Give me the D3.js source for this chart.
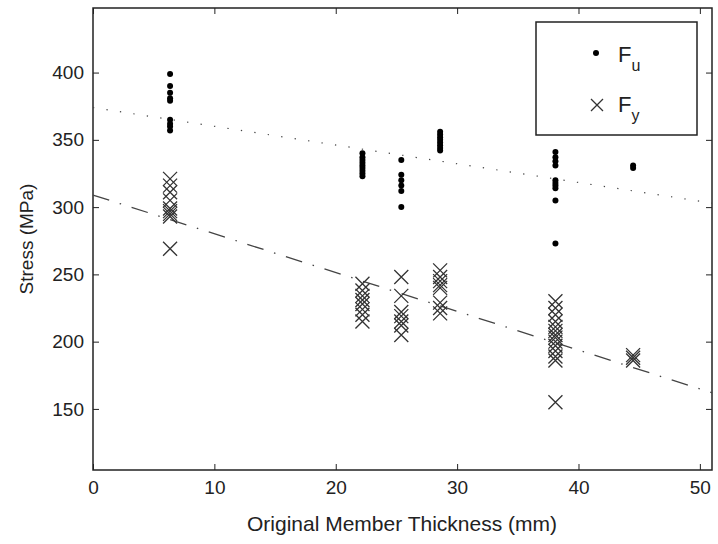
<!DOCTYPE html>
<html>
<head>
<script src="https://d3js.org/d3.v7.min.js"></script>
<style>
  body { margin: 0; background: #fff; }
  svg { font-family: "Liberation Sans", Arial, sans-serif; }
</style>
</head>
<body>
<div id="chart"></div>
<script>
// thickness groups (mm)
const thickness = [6.35, 22.2, 25.4, 28.6, 38.1, 44.5];

// ultimate strength Fu per thickness group (MPa)
const fuValues = [
  [399, 390, 385, 381, 379, 365, 362, 360, 357],
  [340, 337, 335, 333, 331, 329, 327, 325, 323],
  [335, 324, 320, 316, 312, 300],
  [356, 354, 352, 350, 348, 346, 344, 342],
  [341, 337, 334, 331, 320, 318, 316, 314, 305, 273],
  [331, 329]
];

// yield strength Fy per thickness group (MPa)
const fyValues = [
  [321, 316, 311, 305, 299, 297, 295, 293, 269],
  [243, 238, 234, 231, 228, 224, 220, 215],
  [248, 234, 222, 219, 215, 212, 205],
  [253, 248, 245, 242, 240, 229, 225, 221],
  [230, 225, 220, 215, 211, 208, 205, 203, 200, 197, 193, 189, 186, 155],
  [190, 188, 186]
];

// fitted trend lines: [thickness, stress] end points
const fuTrend = [[0, 374], [51, 303]];
const fyTrend = [[0, 309], [51, 162]];

const xTicks = [0, 10, 20, 30, 40, 50];
const yTicks = [150, 200, 250, 300, 350, 400];

const W = 718, H = 544;
const margin = {top: 8, right: 6, bottom: 74, left: 93};
const width = W - margin.left - margin.right;
const height = H - margin.top - margin.bottom;

const svg = d3.select("#chart").append("svg")
  .attr("width", W).attr("height", H);
const g = svg.append("g")
  .attr("transform", "translate(" + margin.left + "," + margin.top + ")");

const x = d3.scaleLinear().domain([0, 51]).range([0, width]);
const y = d3.scaleLinear().domain([104.6, 448]).range([height, 0]);

const ink = "#222";
const tickLen = 6;

// axes (ticks inward, box style)
const axisStyle = sel => {
  sel.select(".domain").remove();
  sel.selectAll("line").attr("stroke", ink);
  sel.selectAll("text").attr("fill", ink).style("font-size", "19px");
};
g.append("g").attr("transform", "translate(0," + height + ")")
  .call(d3.axisBottom(x).tickValues(xTicks).tickSizeInner(-tickLen).tickSizeOuter(0).tickPadding(11))
  .call(axisStyle);
g.append("g")
  .call(d3.axisLeft(y).tickValues(yTicks).tickSizeInner(-tickLen).tickSizeOuter(0).tickPadding(9))
  .call(axisStyle);
g.append("g")
  .call(d3.axisTop(x).tickValues(xTicks).tickSizeInner(-tickLen).tickSizeOuter(0).tickFormat(""))
  .call(axisStyle);
g.append("g").attr("transform", "translate(" + width + ",0)")
  .call(d3.axisRight(y).tickValues(yTicks).tickSizeInner(-tickLen).tickSizeOuter(0).tickFormat(""))
  .call(axisStyle);

g.append("rect")
  .attr("width", width).attr("height", height)
  .attr("fill", "none").attr("stroke", ink).attr("stroke-width", 1.5);

// trend lines
const line = d3.line().x(d => x(d[0])).y(d => y(d[1]));
g.append("path").datum(fuTrend).attr("d", line)
  .attr("fill", "none").attr("stroke", "#444").attr("stroke-width", 1.2)
  .attr("stroke-dasharray", "1.3 12.3");
g.append("path").datum(fyTrend).attr("d", line)
  .attr("fill", "none").attr("stroke", "#444").attr("stroke-width", 1.3)
  .attr("stroke-dasharray", "17 11 1.5 11");

// flatten groups
const fuPts = thickness.flatMap((t, i) => fuValues[i].map(v => ({t, v})));
const fyPts = thickness.flatMap((t, i) => fyValues[i].map(v => ({t, v})));

const cross = 7;
const crossPath = "M" + -cross + "," + -cross + "L" + cross + "," + cross +
                  "M" + -cross + "," + cross + "L" + cross + "," + -cross;

g.selectAll(".fy").data(fyPts).join("path")
  .attr("class", "fy")
  .attr("transform", d => "translate(" + x(d.t) + "," + y(d.v) + ")")
  .attr("d", crossPath)
  .attr("stroke", "#333").attr("stroke-width", 1.3).attr("fill", "none");

g.selectAll(".fu").data(fuPts).join("circle")
  .attr("class", "fu")
  .attr("cx", d => x(d.t)).attr("cy", d => y(d.v)).attr("r", 3)
  .attr("fill", "#000");

// axis titles
svg.append("text")
  .attr("x", 402).attr("y", 531)
  .attr("text-anchor", "middle").attr("fill", ink).style("font-size", "21px")
  .text("Original Member Thickness (mm)");
svg.append("text")
  .attr("transform", "translate(33,239) rotate(-90)")
  .attr("text-anchor", "middle").attr("fill", ink).style("font-size", "19px")
  .text("Stress (MPa)");

// legend
const legend = svg.append("g").attr("transform", "translate(536,22)");
legend.append("rect").attr("width", 161).attr("height", 113)
  .attr("fill", "#fff").attr("stroke", ink).attr("stroke-width", 1.5);
legend.append("circle").attr("cx", 60).attr("cy", 31).attr("r", 3).attr("fill", "#000");
legend.append("path").attr("transform", "translate(61,83)")
  .attr("d", "M-6,-6L6,6M-6,6L6,-6").attr("stroke", "#333").attr("stroke-width", 1.3);
const labels = [{main: "F", sub: "u", y: 40}, {main: "F", sub: "y", y: 90}];
labels.forEach(l => {
  const t = legend.append("text").attr("x", 82).attr("y", l.y)
    .attr("fill", ink).style("font-size", "22px");
  t.append("tspan").text(l.main);
  t.append("tspan").attr("dy", 9).style("font-size", "16px").text(l.sub);
});
</script>
</body>
</html>
